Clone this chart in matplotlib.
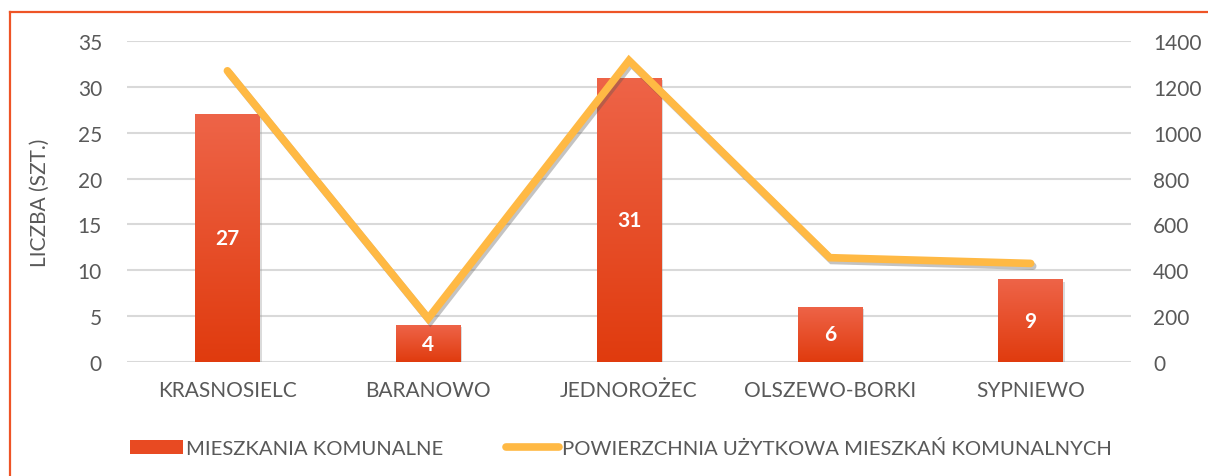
import matplotlib

matplotlib.use("Agg")
import matplotlib.pyplot as plt
import numpy as np
from matplotlib import patheffects as pe
from matplotlib.lines import Line2D
from matplotlib.patches import Patch

plt.rcParams["font.family"] = ["Lato", "DejaVu Sans"]

gminy = ["KRASNOSIELC", "BARANOWO", "JEDNOROŻEC", "OLSZEWO-BORKI", "SYPNIEWO"]
mieszkania = [27, 4, 31, 6, 9]
powierzchnia = [1270, 190, 1315, 455, 430]

left_ticks = [0, 5, 10, 15, 20, 25, 30, 35]
right_ticks = [0, 200, 400, 600, 800, 1000, 1200, 1400]

TEXT = "#595959"
GRID = "#D9D9D9"
LINE = "#FFB944"
FRAME = "#EE5426"

W, H = 1208, 477
fig = plt.figure(figsize=(W / 100, H / 100), dpi=100)
ax = fig.add_axes([127 / W, 1 - 363 / H, (1131 - 127) / W, (363 - 42) / H])
ax2 = ax.twinx()

x = np.arange(len(gminy))
bw = 0.32

# bars with a vertical gradient, lighter at the top
grad = np.linspace(0, 1, 256).reshape(-1, 1)
cmap = matplotlib.colors.LinearSegmentedColormap.from_list("bar", ["#E03B0E", "#EE6448"])
bars = ax.bar(x, mieszkania, width=bw, color="#E84A22", zorder=2)
for rect, val in zip(bars, mieszkania):
    rect.set_path_effects([pe.SimplePatchShadow(offset=(1.5, -1.5), shadow_rgbFace="#999999", alpha=0.35), pe.Normal()])
    x0 = rect.get_x()
    im = ax.imshow(grad, extent=[x0, x0 + bw, 0, val], origin="lower", cmap=cmap,
                   aspect="auto", zorder=3, interpolation="bilinear")
    im.set_clip_path(rect)
    ax.text(rect.get_x() + bw / 2, val / 2, str(val), ha="center", va="center",
            color="white", fontsize=15, fontweight="bold", zorder=5)

ax.set_xlim(-0.5, len(gminy) - 0.5)
ax.set_ylim(0, 35)
ax.set_yticks(left_ticks)
ax.set_xticks(x)
ax.set_xticklabels(gminy)
ax.grid(axis="y", color=GRID, linewidth=1.5, zorder=0)
ax.set_axisbelow(True)
ax.set_ylabel("LICZBA (SZT.)", color=TEXT, fontsize=15, labelpad=20)

ax2.plot(x, powierzchnia, color=LINE, linewidth=5.5, solid_joinstyle="miter",
         solid_capstyle="round", zorder=4,
         path_effects=[pe.SimpleLineShadow(offset=(1.5, -2), shadow_color="#555555", alpha=0.35), pe.Normal()])
ax2.set_ylim(0, 1400)
ax2.set_yticks(right_ticks)

for a in (ax, ax2):
    for s in a.spines.values():
        s.set_visible(False)
    a.tick_params(length=0, labelsize=15, labelcolor=TEXT)
ax.tick_params(axis="y", pad=18)
ax.tick_params(axis="x", pad=13)
ax2.tick_params(axis="y", pad=16)

handles = [
    Patch(facecolor="#E84A22", edgecolor="none"),
    Line2D([], [], color=LINE, linewidth=5.5, solid_capstyle="round"),
]
fig.legend(handles, ["MIESZKANIA KOMUNALNE", "POWIERZCHNIA UŻYTKOWA MIESZKAŃ KOMUNALNYCH"],
           loc="center left", bbox_to_anchor=(130 / W, 1 - 449 / H), ncol=2, frameon=False,
           fontsize=14.6, labelcolor=TEXT, handlelength=2.6, handleheight=0.75,
           handletextpad=0.15, columnspacing=3.1, borderaxespad=0, borderpad=0)

# outer frame: left and top edges only
fig.add_artist(Line2D([10 / W, 10 / W], [0, 1 - 13 / H], color=FRAME, linewidth=1.6))
fig.add_artist(Line2D([10 / W, 1], [1 - 13 / H, 1 - 13 / H], color=FRAME, linewidth=1.6))

fig.savefig("out.png", dpi=100)
